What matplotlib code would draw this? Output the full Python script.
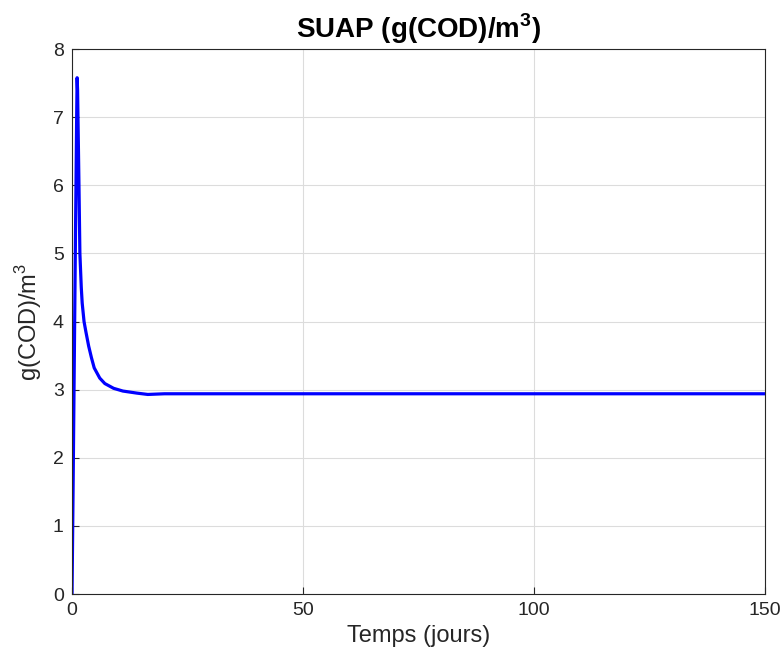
import numpy as np
import matplotlib.pyplot as plt

plt.rcParams['font.family'] = ['Liberation Sans', 'DejaVu Sans']
plt.rcParams['mathtext.fontset'] = 'custom'
plt.rcParams['mathtext.rm'] = 'Liberation Sans'
plt.rcParams['mathtext.bf'] = 'Liberation Sans:bold'

# temps (jours) et SUAP
t = [0, 0.25, 0.5, 0.75, 1.0, 1.1, 1.2, 1.35, 1.5, 1.7, 2.0, 2.2, 2.6, 3.0,
     3.6, 4.2, 4.8, 6.0, 7.1, 9.0, 11.0, 14.0, 16.4, 20.0, 30.0, 60.0, 100.0, 150.0]
suap = [0, 1.7, 3.5, 5.3, 7.0, 7.58, 7.4, 6.7, 6.0, 5.0, 4.5, 4.27, 4.0, 3.85,
        3.64, 3.47, 3.32, 3.17, 3.09, 3.02, 2.98, 2.95, 2.93, 2.94, 2.94, 2.94, 2.94, 2.94]

xticks = [0, 50, 100, 150]
yticks = [0, 1, 2, 3, 4, 5, 6, 7, 8]

fig = plt.figure(figsize=(7.83, 6.64), dpi=100)
ax = fig.add_axes([0.092, 0.1054, 0.885, 0.8206])
ax.plot(t, suap, color=(0, 0, 1), lw=2.3)

ax.set_xlim(0, 150)
ax.set_ylim(0, 8)
ax.set_xticks(xticks)
ax.set_yticks(yticks)
ax.grid(True, color='#dcdcdc', lw=0.8)
ax.tick_params(direction='in', labelsize=14, color='#262626', labelcolor='#262626',
               length=5, pad=6)
for s in ax.spines.values():
    s.set_color('#262626')
    s.set_linewidth(0.8)

ax.set_title(r'SUAP (g(COD)/m$^\mathbf{3}$)', fontsize=20, fontweight='bold', pad=8)
ax.set_xlabel('Temps (jours)', fontsize=17, color='#262626', labelpad=4)
ax.set_ylabel(r'g(COD)/m$^3$', fontsize=17, color='#262626', labelpad=6)

fig.savefig('out.png', dpi=100)
